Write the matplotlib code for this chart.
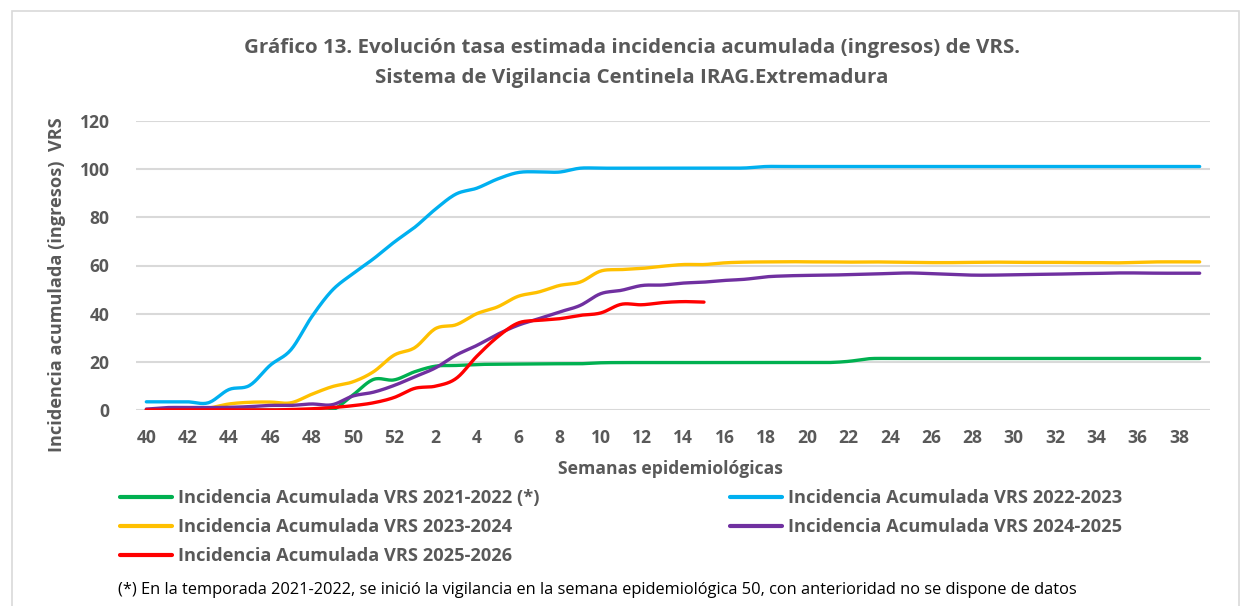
import numpy as np
import matplotlib
matplotlib.use("Agg")
import matplotlib.pyplot as plt
from matplotlib.patches import Rectangle

# ---------------- data ----------------
weeks = list(range(40, 53)) + list(range(1, 40))
tick_labels = [str(w) for w in weeks]

s2122 = [0, 0, 0, 0, 0, 0, 0, 0, 0, 0, 6.2, 12.7, 12.5, 15.9, 18.2, 18.5, 18.9, 19.0, 19.1,
         19.2, 19.2, 19.2, 19.6, 19.7, 19.7, 19.7, 19.7, 19.7, 19.7, 19.7, 19.7, 19.7, 19.7,
         19.7, 20.2, 21.3, 21.4, 21.4, 21.4, 21.4, 21.4, 21.4, 21.4, 21.4, 21.4, 21.4, 21.4,
         21.4, 21.4, 21.4, 21.4, 21.4]
s2223 = [3.4, 3.4, 3.4, 3.0, 8.5, 10.2, 18.6, 25.0, 38.6, 49.7, 56.6, 62.8, 69.7, 75.9, 83.4,
         89.7, 92.1, 95.9, 98.6, 98.9, 98.8, 100.4, 100.4, 100.4, 100.4, 100.4, 100.4, 100.4,
         100.4, 100.5, 101.1, 101.1, 101.1, 101.1, 101.1, 101.1, 101.1, 101.1, 101.1, 101.1,
         101.1, 101.1, 101.1, 101.1, 101.1, 101.1, 101.1, 101.1, 101.1, 101.1, 101.1, 101.1]
s2324 = [0, 0.3, 0.5, 0.8, 2.5, 3.2, 3.3, 3.0, 6.5, 9.7, 11.7, 15.9, 22.8, 25.9, 33.8, 35.4,
         40.0, 42.8, 47.2, 49.0, 51.7, 53.1, 57.7, 58.3, 58.8, 59.7, 60.4, 60.4, 61.1, 61.4,
         61.5, 61.6, 61.5, 61.5, 61.4, 61.5, 61.4, 61.3, 61.2, 61.2, 61.3, 61.4, 61.3, 61.3,
         61.3, 61.2, 61.2, 61.1, 61.3, 61.5, 61.5, 61.5]
s2425 = [0.4, 1.0, 1.0, 1.0, 1.1, 1.4, 1.9, 1.9, 2.5, 2.2, 5.8, 7.4, 10.2, 13.8, 17.5, 22.8,
         26.8, 31.4, 35.2, 37.9, 40.7, 43.4, 48.3, 49.7, 51.7, 51.9, 52.7, 53.1, 53.8, 54.3,
         55.3, 55.7, 55.9, 56.0, 56.2, 56.4, 56.7, 56.9, 56.6, 56.3, 56.0, 56.0, 56.2, 56.3,
         56.4, 56.6, 56.7, 56.9, 56.9, 56.8, 56.8, 56.8]
s2526 = [0, 0, 0, 0, 0, 0, 0, 0.2, 0.5, 1.0, 1.8, 3.0, 5.2, 9.0, 9.9, 13.1, 22.3, 30.3, 36.1,
         37.2, 37.9, 39.3, 40.3, 43.9, 43.7, 44.6, 45.0, 44.8]

series_names = ["Incidencia Acumulada VRS 2021-2022 (*)",
                "Incidencia Acumulada VRS 2022-2023",
                "Incidencia Acumulada VRS 2023-2024",
                "Incidencia Acumulada VRS 2024-2025",
                "Incidencia Acumulada VRS 2025-2026"]
series_values = [s2122, s2223, s2324, s2425, s2526]
series_colors = ["#00B050", "#00B0F0", "#FFC000", "#7030A0", "#FF0000"]

title_line1 = "Gráfico 13. Evolución tasa estimada incidencia acumulada (ingresos) de VRS."
title_line2 = "Sistema de Vigilancia Centinela IRAG.Extremadura"
xlabel_text = "Semanas epidemiológicas"
ylabel_text = "Incidencia acumulada (ingresos)  VRS"
footnote_text = ("(*) En la temporada 2021-2022, se inició la vigilancia en la semana "
                 "epidemiológica 50, con anterioridad no se dispone de datos")


def smooth(y, n=16):
    """Catmull-Rom smoothing through the points (like Excel's smoothed line)."""
    y = np.asarray(y, float)
    x = np.arange(len(y), dtype=float)
    px = np.concatenate([[2 * x[0] - x[1]], x, [2 * x[-1] - x[-2]]])
    py = np.concatenate([[y[0]], y, [y[-1]]])
    xs, ys = [], []
    t = np.linspace(0, 1, n, endpoint=False)
    for i in range(1, len(px) - 2):
        for arr, src in ((ys, py), (xs, px)):
            a0, a1, a2, a3 = src[i - 1], src[i], src[i + 1], src[i + 2]
            arr.extend(0.5 * ((2 * a1) + (-a0 + a2) * t + (2 * a0 - 5 * a1 + 4 * a2 - a3) * t ** 2
                              + (-a0 + 3 * a1 - 3 * a2 + a3) * t ** 3))
    xs.append(x[-1])
    ys.append(y[-1])
    return np.array(xs), np.array(ys)


W, H = 1241, 606
plt.rcParams['font.family'] = ['Open Sans', 'DejaVu Sans']
fig = plt.figure(figsize=(W / 100, H / 100), dpi=100)
renderer = fig.canvas.get_renderer()
gray = "#595959"


def fit_size(s, target_px, weight="bold", base=10.0):
    t = fig.text(0, 0, s, fontsize=base, fontweight=weight)
    w = t.get_window_extent(renderer).width
    t.remove()
    return base * target_px / w


fs_title = fit_size(title_line1, 774)
fs_xlabel = fit_size(xlabel_text, 225)
fs_ylabel = fit_size(ylabel_text, 334)
fs_legend = fit_size(series_names[0], 360)
fs_foot = fit_size(footnote_text, 962, weight="normal")
fs_tick = fit_size("120", 30)

# chart border
fig.patches.append(Rectangle((12 / W, -0.05), (1239 - 12) / W, (H - 11) / H + 0.05,
                             transform=fig.transFigure, fill=False, edgecolor="#d9d9d9",
                             lw=1.2))

ax = fig.add_axes([136 / W, 1 - 410 / H, (1210 - 136) / W, (410 - 121) / H])
for sp in ax.spines.values():
    sp.set_visible(False)
ax.set_ylim(0, 120)
ax.set_xlim(-0.5, len(weeks) - 0.5)
ax.set_yticks(np.arange(0, 121, 20))
ax.yaxis.grid(True, color="#d9d9d9", lw=1.5)
ax.set_axisbelow(True)
ax.tick_params(length=0)
ax.set_xticks(range(0, len(weeks), 2))
ax.set_xticklabels(tick_labels[::2])
for lab in ax.get_xticklabels() + ax.get_yticklabels():
    lab.set_fontsize(fs_tick)
    lab.set_fontweight("bold")
    lab.set_color(gray)
ax.tick_params(axis="y", pad=19)
ax.tick_params(axis="x", pad=14)

handles = []
for name, vals, col in zip(series_names, series_values, series_colors):
    xs, ys = smooth(vals)
    ln, = ax.plot(xs, ys, color=col, lw=2.4, solid_capstyle="round", label=name)
    handles.append(ln)

fig.text(632 / W, 1 - 48 / H, title_line1, ha="center", va="center", fontsize=fs_title,
         fontweight="bold", color=gray)
fig.text(632 / W, 1 - 78 / H, title_line2, ha="center", va="center", fontsize=fs_title,
         fontweight="bold", color=gray)
fig.text(670 / W, 1 - 469 / H, xlabel_text, ha="center", va="center", fontsize=fs_xlabel,
         fontweight="bold", color=gray)
fig.text(57 / W, 1 - 285 / H, ylabel_text, ha="center", va="center", rotation=90,
         fontsize=fs_ylabel, fontweight="bold", color=gray)

fpx = fs_legend * 100 / 72.0
order1 = [0, 2, 4]
order2 = [1, 3]
row_pitch = 29.0
first_row_y = 498.0


def make_legends(spacing, top):
    kw = dict(frameon=False, fontsize=fs_legend, handlelength=52 / fpx,
              handletextpad=6 / fpx, labelspacing=spacing, borderpad=0,
              borderaxespad=0, loc="upper left")
    l1 = fig.legend([handles[i] for i in order1], [series_names[i] for i in order1],
                    bbox_to_anchor=(120 / W, 1 - top / H), **kw)
    l2 = fig.legend([handles[i] for i in order2], [series_names[i] for i in order2],
                    bbox_to_anchor=(730 / W, 1 - top / H), **kw)
    for leg in (l1, l2):
        for t in leg.get_texts():
            t.set_fontweight("bold")
            t.set_color(gray)
        for l in leg.get_lines():
            l.set_linewidth(3)
    return l1, l2


def row_centers(leg):
    out = []
    for t in leg.get_texts():
        bb = t.get_window_extent(renderer)
        out.append(H - (bb.y0 + bb.y1) / 2)
    return out


spacing = 0.5
top = 488.0
l1, l2 = make_legends(spacing, top)
fig.canvas.draw()
ys_ = row_centers(l1)
pitch = (ys_[2] - ys_[0]) / 2
spacing += (row_pitch - pitch) / fpx
top += first_row_y - ys_[0]
l1.remove()
l2.remove()
l1, l2 = make_legends(spacing, top)
fig.canvas.draw()
ys_ = row_centers(l1)
top += first_row_y - ys_[0]
l1.remove()
l2.remove()
l1, l2 = make_legends(spacing, top)

fig.text(118 / W, 1 - 590 / H, footnote_text, ha="left", va="center", fontsize=fs_foot,
         color="black")

fig.savefig("out.png", dpi=100)
